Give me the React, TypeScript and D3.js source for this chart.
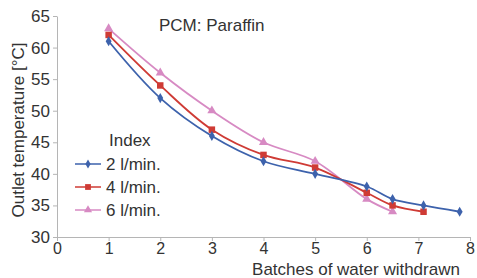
import { useEffect, useRef } from "react";
import * as d3 from "d3";

const xTicks = [0, 1, 2, 3, 4, 5, 6, 7, 8];
const yTicks = [30, 35, 40, 45, 50, 55, 60, 65];

const batches2 = [1, 2, 3, 4, 5, 6, 6.5, 7.1, 7.8];
const temps2 = [61, 52, 46, 42, 40, 38, 36, 35, 34];
const batches4 = [1, 2, 3, 4, 5, 6, 6.5, 7.1];
const temps4 = [62, 54, 47, 43, 41, 37, 35, 34];
const batches6 = [1, 2, 3, 4, 5, 6, 6.5];
const temps6 = [63, 56, 50, 45, 42, 36, 34];

const seriesNames = ["2 l/min.", "4 l/min.", "6 l/min."];
const seriesColors = ["#3d62ac", "#cf3b35", "#d78ac3"];

const App = () => {
  const svgRef = useRef<SVGSVGElement | null>(null);

  useEffect(() => {
    const width = 477;
    const height = 278;
    const margin = { top: 16, right: 7, bottom: 41, left: 57 };

    const svg = d3.select(svgRef.current);
    svg.selectAll("*").remove();

    const font = "Liberation Sans, Arial, sans-serif";
    const fs = 17;
    const textColor = "#333";
    const axisColor = "#b5b5b5";

    const x = d3.scaleLinear().domain([0, 8]).range([margin.left, width - margin.right]);
    const y = d3.scaleLinear().domain([30, 65]).range([height - margin.bottom, margin.top]);

    // y axis
    svg
      .append("g")
      .attr("transform", `translate(${margin.left},0)`)
      .call(d3.axisLeft(y).tickValues(yTicks).tickSize(4).tickSizeOuter(0).tickPadding(3))
      .call((g) => {
        g.selectAll(".domain").attr("stroke", axisColor);
        g.selectAll(".tick line").attr("stroke", axisColor);
        g.selectAll("text")
          .attr("fill", textColor)
          .attr("font-size", fs)
          .attr("font-family", font);
      });

    // x axis
    svg
      .append("g")
      .attr("transform", `translate(0,${height - margin.bottom})`)
      .call(d3.axisBottom(x).tickValues(xTicks).tickSize(4).tickSizeOuter(0).tickPadding(2))
      .call((g) => {
        g.selectAll(".domain").attr("stroke", axisColor);
        g.selectAll(".tick line").attr("stroke", axisColor);
        g.selectAll("text")
          .attr("fill", textColor)
          .attr("font-size", 16)
          .attr("font-family", font);
      });

    const series = [
      { xs: batches2, ys: temps2 },
      { xs: batches4, ys: temps4 },
      { xs: batches6, ys: temps6 },
    ];

    const line = d3
      .line<[number, number]>()
      .x((d) => x(d[0]))
      .y((d) => y(d[1]))
      .curve(d3.curveCatmullRom.alpha(0.5));

    const symbols = [d3.symbolDiamond, d3.symbolSquare, d3.symbolTriangle];
    const sizes = [30, 42, 36];

    // draw pink first so blue sits on top
    [2, 1, 0].forEach((i) => {
      const pts: [number, number][] = series[i].xs.map((v, j) => [v, series[i].ys[j]]);
      svg
        .append("path")
        .attr("d", line(pts))
        .attr("fill", "none")
        .attr("stroke", seriesColors[i])
        .attr("stroke-width", 1.8);
      svg
        .append("g")
        .selectAll("path")
        .data(pts)
        .join("path")
        .attr("transform", (d) => `translate(${x(d[0])},${y(d[1])})`)
        .attr("d", d3.symbol().type(symbols[i]).size(sizes[i])())
        .attr("fill", seriesColors[i]);
    });

    // title
    svg
      .append("text")
      .attr("x", 159)
      .attr("y", 31)
      .attr("font-size", fs)
      .attr("font-family", font)
      .attr("fill", textColor)
      .text("PCM: Paraffin");

    // legend
    const legend = svg.append("g").attr("font-family", font).attr("font-size", fs);
    legend
      .append("text")
      .attr("x", 109)
      .attr("y", 146)
      .attr("fill", textColor)
      .text("Index");
    seriesNames.forEach((name, i) => {
      const ly = 164 + i * 23;
      legend
        .append("line")
        .attr("x1", 75)
        .attr("x2", 101)
        .attr("y1", ly)
        .attr("y2", ly)
        .attr("stroke", seriesColors[i])
        .attr("stroke-width", 1.5);
      legend
        .append("path")
        .attr("transform", `translate(88,${ly})`)
        .attr("d", d3.symbol().type(symbols[i]).size(sizes[i] * 0.8)())
        .attr("fill", seriesColors[i]);
      legend
        .append("text")
        .attr("x", 106)
        .attr("y", ly + 6)
        .attr("fill", textColor)
        .text(name);
    });

    // axis labels
    svg
      .append("text")
      .attr("x", 356)
      .attr("y", 275)
      .attr("text-anchor", "middle")
      .attr("font-size", fs)
      .attr("font-family", font)
      .attr("fill", textColor)
      .text("Batches of water withdrawn");

    svg
      .append("text")
      .attr("transform", "rotate(-90)")
      .attr("x", -130)
      .attr("y", 24)
      .attr("text-anchor", "middle")
      .attr("font-size", fs)
      .attr("font-family", font)
      .attr("fill", textColor)
      .text("Outlet temperature [°C]");
  }, []);

  return (
    <div style={{ position: "absolute", left: 0, top: 0, background: "white" }}>
      <svg ref={svgRef} width={477} height={278} style={{ display: "block" }}></svg>
    </div>
  );
};

export default App;
